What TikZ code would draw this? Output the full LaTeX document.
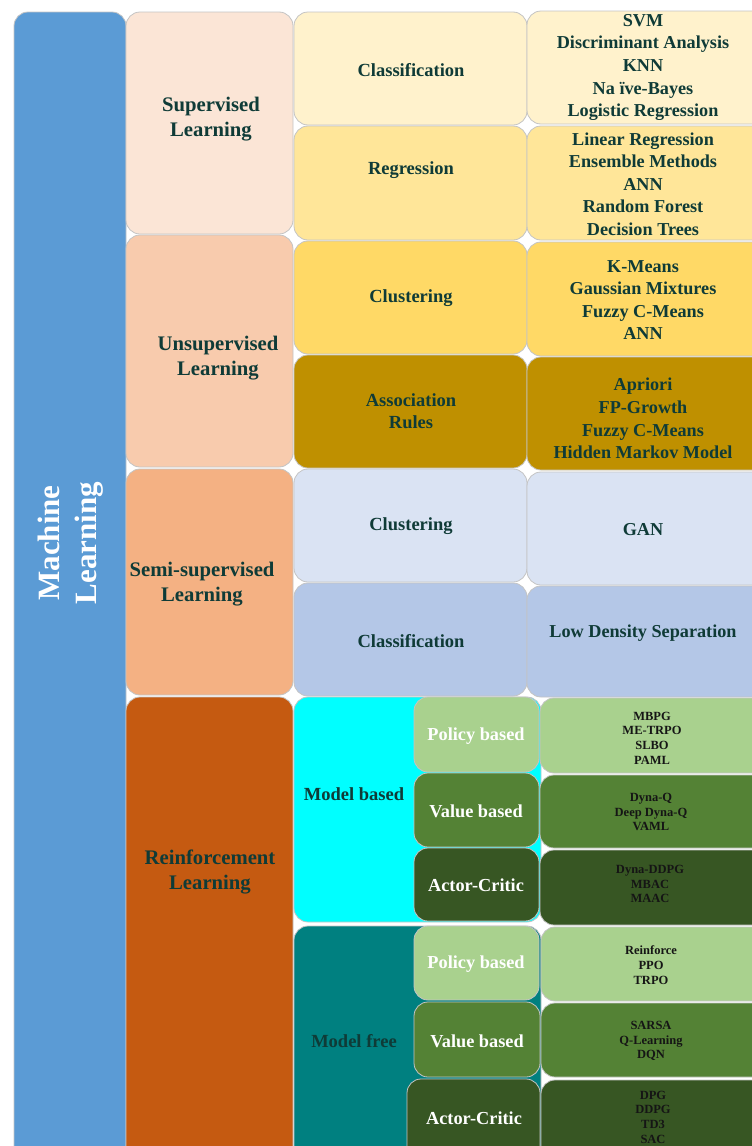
\documentclass[tikz,border=0pt]{standalone}
\usepackage{fontspec}
\setmainfont{Liberation Serif}
\definecolor{boxline}{HTML}{C4C4C4}
\definecolor{txtdark}{HTML}{0F3B37}
\definecolor{txtblack}{HTML}{151515}
\definecolor{mlblue}{HTML}{5B9BD5}
\definecolor{supfill}{HTML}{FBE5D6}
\definecolor{unsfill}{HTML}{F8CBAD}
\definecolor{semfill}{HTML}{F4B183}
\definecolor{rlfill}{HTML}{C55A11}
\definecolor{ylA}{HTML}{FFF2CC}
\definecolor{ylB}{HTML}{FFE699}
\definecolor{ylC}{HTML}{FFD966}
\definecolor{ylD}{HTML}{BF9000}
\definecolor{blA}{HTML}{DAE3F3}
\definecolor{blB}{HTML}{B4C7E7}
\definecolor{cyanfill}{HTML}{00FFFF}
\definecolor{tealfill}{HTML}{008080}
\definecolor{grA}{HTML}{A9D18E}
\definecolor{grB}{HTML}{548235}
\definecolor{grC}{HTML}{375623}
\tikzset{
  box/.style={draw=boxline, line width=0.8pt, rounded corners=14pt},
  lblbig/.style={align=center, text=white, font=\bfseries\fontsize{31}{37}\selectfont},
  lblcat/.style={align=center, text=txtdark, font=\bfseries\fontsize{20.7}{25}\selectfont},
  lbltask/.style={align=center, text=txtdark, font=\bfseries\fontsize{18.5}{22}\selectfont},
  lblalg/.style={align=center, text=txtdark, font=\bfseries\fontsize{18.2}{22.6}\selectfont},
  lblkind/.style={align=center, text=white, font=\bfseries\fontsize{18.3}{22}\selectfont},
  lblsmall/.style={align=center, text=txtblack, font=\bfseries\fontsize{12.5}{14.7}\selectfont},
}
% filled rounded cell: x1 y1 x2 y2 colour
\newcommand\cellrect[5]{\draw[box, fill=#5] (#1,#2) rectangle (#3,#4);}
\begin{document}
\begin{tikzpicture}[x=1pt, y=-1pt]
\useasboundingbox (0,0) rectangle (752,1146);
\clip (0,0) rectangle (752,1146);

% root column
\cellrect{14}{12}{126}{1165}{mlblue}
\node[lblbig, rotate=90] (ml) at (71,543) {Machine\\Learning};

% learning paradigms
\cellrect{126}{12}{293}{234}{supfill}
\cellrect{126}{235}{293}{467}{unsfill}
\cellrect{126}{469}{293}{695}{semfill}
\cellrect{126}{697}{293}{1165}{rlfill}
\node[lblcat] (sup) at (211,119) {Supervised\\Learning};
\node[lblcat] (uns) at (218,358.5) {Unsupervised\\Learning};
\node[lblcat] (sem) at (202,584.5) {Semi-supervised\\Learning};
\node[lblcat] (rl)  at (210,872) {Reinforcement\\Learning};

% tasks
\cellrect{294}{12}{527}{125}{ylA}
\cellrect{294}{126}{527}{240}{ylB}
\cellrect{294}{241}{527}{354}{ylC}
\cellrect{294}{355}{527}{468}{ylD}
\cellrect{294}{469}{527}{582}{blA}
\cellrect{294}{583}{527}{696}{blB}
\node[lbltask] (cls) at (411,70) {Classification};
\node[lbltask] (reg) at (411,170.5) {Regression};
\node[lbltask] (clu) at (411,298.5) {Clustering};
\node[lbltask] (asr) at (411,411.5) {Association\\Rules};
\node[lbltask] (sclu) at (411,526.5) {Clustering};
\node[lbltask] (scls) at (411,641) {Classification};

% algorithms
\cellrect{527}{11}{775}{124}{ylA}
\cellrect{527}{126}{775}{240}{ylB}
\cellrect{527}{242}{775}{356}{ylC}
\cellrect{527}{357}{775}{470}{ylD}
\cellrect{527}{472}{775}{585}{blA}
\cellrect{527}{586}{775}{697}{blB}
\node[lblalg] (acls) at (643,67.5) {SVM\\Discriminant Analysis\\KNN\\Na ïve-Bayes\\Logistic Regression};
\node[lblalg] (areg) at (643,184) {Linear Regression\\Ensemble Methods\\ANN\\Random Forest\\Decision Trees};
\node[lblalg] (aclu) at (643,300) {K-Means\\Gaussian Mixtures\\Fuzzy C-Means\\ANN};
\node[lblalg] (aasr) at (643,418.5) {Apriori\\FP-Growth\\Fuzzy C-Means\\Hidden Markov Model};
\node[lblalg] (agan) at (643,530) {GAN};
\node[lblalg] (alds) at (643,633.5) {Low Density Separation};

% reinforcement learning: model based
\cellrect{294}{697}{541}{922}{cyanfill}
\node[lbltask] (mb) at (354,794) {Model based};
\cellrect{414}{697}{539}{772}{grA}
\cellrect{414}{773}{539}{847}{grB}
\cellrect{414}{848}{539}{921}{grC}
\node[lblkind] (mbp) at (476,736) {Policy based};
\node[lblkind] (mbv) at (476,811) {Value based};
\node[lblkind] (mba) at (476,885) {Actor-Critic};
\cellrect{540}{698}{775}{773}{grA}
\cellrect{540}{775}{775}{848}{grB}
\cellrect{540}{850}{775}{925}{grC}
\node[lblsmall] (mbpa) at (652,738) {MBPG\\ME-TRPO\\SLBO\\PAML};
\node[lblsmall] (mbva) at (651,812) {Dyna-Q\\Deep Dyna-Q\\VAML};
\node[lblsmall] (mbaa) at (650,884) {Dyna-DDPG\\MBAC\\MAAC};

% reinforcement learning: model free
\cellrect{294}{926}{541}{1165}{tealfill}
\node[lbltask] (mf) at (354,1041) {Model free};
\cellrect{414}{926}{539}{1000}{grA}
\cellrect{414}{1002}{540}{1077}{grB}
\cellrect{407}{1079}{540}{1165}{grC}
\node[lblkind] (mfp) at (476,964) {Policy based};
\node[lblkind] (mfv) at (477,1041) {Value based};
\node[lblkind] (mfa) at (474,1118) {Actor-Critic};
\cellrect{541}{927}{775}{1001}{grA}
\cellrect{541}{1003}{775}{1077}{grB}
\cellrect{541}{1080}{775}{1165}{grC}
\node[lblsmall] (mfpa) at (651,965) {Reinforce\\PPO\\TRPO};
\node[lblsmall] (mfva) at (651,1041) {SARSA\\Q-Learning\\DQN};
\node[lblsmall] (mfaa) at (653,1117) {DPG\\DDPG\\TD3\\SAC};
\end{tikzpicture}
\end{document}
